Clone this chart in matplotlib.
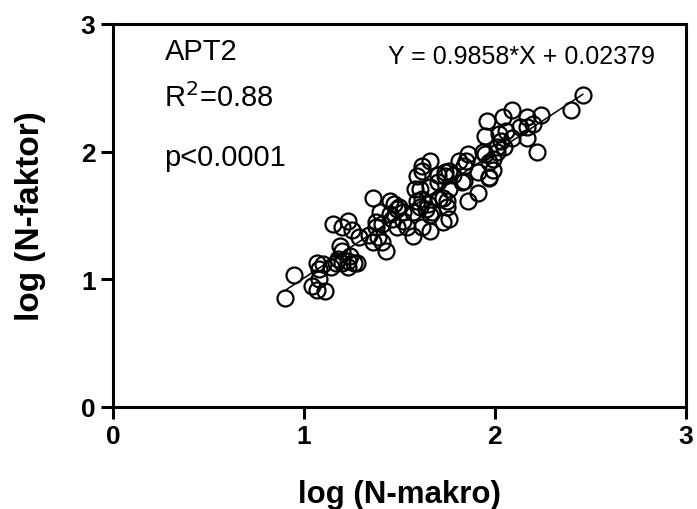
import numpy as np
import matplotlib
matplotlib.use("Agg")
import matplotlib.pyplot as plt

plt.rcParams["font.family"] = ["Liberation Sans", "DejaVu Sans"]

# Data (log N-makro, log N-faktor)
log_makro = [
    0.90, 0.95, 1.04, 1.07, 1.11, 1.08, 1.08, 1.07, 1.10, 1.18,
    1.20, 1.23, 1.26, 1.19, 1.24, 1.28, 1.14, 1.20, 1.17, 1.23,
    1.36, 1.15, 1.23, 1.20, 1.25, 1.29, 1.34, 1.38, 1.41, 1.41,
    1.43, 1.45, 1.49, 1.52, 1.49, 1.45, 1.36, 1.38, 1.40, 1.47,
    1.50, 1.52, 1.46, 1.39, 1.54, 1.57, 1.59, 1.62, 1.61, 1.66,
    1.64, 1.67, 1.66, 1.71, 1.75, 1.76, 1.73, 1.70, 1.62, 1.66,
    1.62, 1.59, 1.76, 1.74, 1.70, 1.86, 1.95, 1.99, 2.01, 1.91,
    1.97, 1.84, 1.83, 1.91, 1.86, 1.76, 1.75, 1.73, 1.58, 1.61,
    1.57, 1.65, 1.66, 1.62, 2.46, 2.40, 2.24, 2.09, 2.04, 1.96,
    2.17, 2.17, 2.20, 1.95, 2.02, 2.06, 2.09, 2.13, 2.17, 2.22,
    2.03, 2.05, 2.01, 1.94, 1.85, 1.81, 1.97, 1.99, 1.97, 1.78,
    1.74, 1.84,
]
log_faktor = [
    0.85, 1.03, 0.95, 0.92, 0.91, 1.00, 1.08, 1.13, 1.12, 1.16,
    1.13, 1.14, 1.13, 1.26, 1.18, 1.13, 1.10, 1.22, 1.13, 1.10,
    1.29, 1.43, 1.46, 1.41, 1.39, 1.33, 1.35, 1.41, 1.43, 1.29,
    1.22, 1.51, 1.55, 1.46, 1.41, 1.61, 1.64, 1.45, 1.53, 1.59,
    1.57, 1.53, 1.47, 1.33, 1.41, 1.34, 1.61, 1.63, 1.71, 1.72,
    1.55, 1.53, 1.38, 1.63, 1.61, 1.47, 1.45, 1.76, 1.85, 1.93,
    1.89, 1.81, 1.85, 1.81, 1.82, 1.98, 1.98, 1.94, 2.04, 1.84,
    1.80, 1.89, 1.76, 1.68, 1.61, 1.71, 1.57, 1.64, 1.71, 1.57,
    1.53, 1.59, 1.50, 1.41, 2.44, 2.33, 2.29, 2.33, 2.27, 2.24,
    2.27, 2.19, 2.22, 2.12, 2.14, 2.16, 2.11, 2.19, 2.11, 2.00,
    2.08, 2.04, 2.00, 2.00, 1.93, 1.93, 1.92, 1.86, 1.79, 1.82,
    1.84, 1.77,
]

slope = 0.9858
intercept = 0.02379

fig = plt.figure(figsize=(6.97, 5.10), dpi=100)
ax = fig.add_axes([0.162, 0.2, 0.822, 0.751])

ax.plot(log_makro, log_faktor, linestyle="none", marker="o", markersize=11.5,
        markerfacecolor="none", markeredgecolor="black", markeredgewidth=1.6)

# regression line over the data range
xl = np.array([min(log_makro), max(log_makro)])
ax.plot(xl, slope * xl + intercept, color="black", linewidth=1.1)

ax.set_xlim(0, 3)
ax.set_ylim(0, 3)
ax.set_xticks([0, 1, 2, 3])
ax.set_yticks([0, 1, 2, 3])

for s in ax.spines.values():
    s.set_linewidth(2.2)
ax.tick_params(width=2.2, length=8.5, labelsize=19, pad=4)
for lab in ax.get_xticklabels() + ax.get_yticklabels():
    lab.set_fontweight("bold")

ax.set_xlabel("log (N-makro)", fontsize=22.5, fontweight="bold", labelpad=22)
ax.set_ylabel("log (N-faktor)", fontsize=24, fontweight="bold", labelpad=25)

ax.text(0.27, 2.79, "APT2", fontsize=21, va="center", ha="left")
ax.text(0.27, 2.43, "R$^2$=0.88", fontsize=21, va="center", ha="left")
ax.text(0.27, 1.96, "p<0.0001", fontsize=21, va="center", ha="left")
ax.text(1.44, 2.75, "Y = 0.9858*X + 0.02379", fontsize=18, va="center", ha="left")

fig.savefig("out.png", dpi=100)
